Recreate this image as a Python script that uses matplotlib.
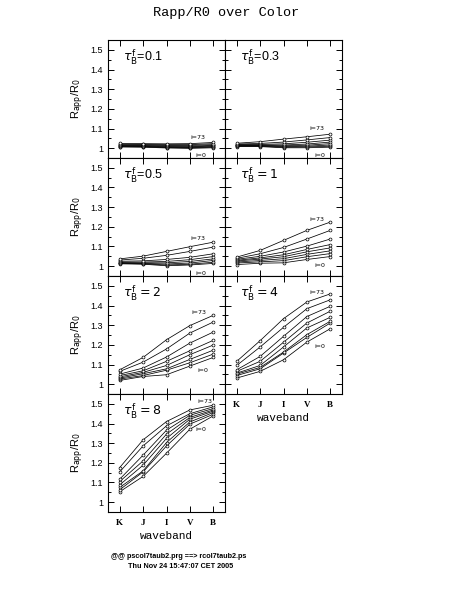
"""
Rapp/R0 frente a la banda de color, para varias profundidades opticas tau_B^f.
Cada curva corresponde a una inclinacion (de i=0 a i=73).
"""

import matplotlib
matplotlib.use('Agg')
import matplotlib.pyplot as plt
from matplotlib.ticker import MultipleLocator

bands = ['K', 'J', 'I', 'V', 'B']
inclinations = [0, 26, 37, 46, 53, 60, 66, 73]
tau_labels = [r'$\tau^{\rm f}_{\rm B}$=0.1', r'$\tau^{\rm f}_{\rm B}$=0.3', r'$\tau^{\rm f}_{\rm B}$=0.5',
              r'$\tau^{\rm f}_{\rm B}=1$', r'$\tau^{\rm f}_{\rm B}=2$', r'$\tau^{\rm f}_{\rm B}=4$',
              r'$\tau^{\rm f}_{\rm B}=8$']
y_ticks = [1.0, 1.1, 1.2, 1.3, 1.4, 1.5]
y_tick_labels = ['1', '1.1', '1.2', '1.3', '1.4', '1.5']

# una fila por inclinacion (i=0 primero), columnas K J I V B
rapp_tau01 = [[1.006, 1.005, 1.001, 0.999, 1.002],
              [1.008, 1.007, 1.003, 1.002, 1.005],
              [1.010, 1.009, 1.005, 1.004, 1.008],
              [1.012, 1.011, 1.008, 1.007, 1.011],
              [1.014, 1.013, 1.011, 1.010, 1.014],
              [1.017, 1.016, 1.014, 1.014, 1.018],
              [1.020, 1.019, 1.018, 1.018, 1.023],
              [1.024, 1.023, 1.022, 1.023, 1.029]]
rapp_tau03 = [[1.008, 1.008, 1.002, 1.002, 1.005],
              [1.010, 1.010, 1.005, 1.006, 1.010],
              [1.012, 1.012, 1.008, 1.010, 1.016],
              [1.014, 1.014, 1.012, 1.015, 1.023],
              [1.016, 1.016, 1.016, 1.021, 1.031],
              [1.018, 1.019, 1.022, 1.030, 1.041],
              [1.021, 1.024, 1.031, 1.042, 1.054],
              [1.025, 1.033, 1.046, 1.058, 1.071]]
rapp_tau05 = [[1.012, 1.010, 1.002, 1.006, 1.014],
              [1.014, 1.012, 1.006, 1.010, 1.020],
              [1.016, 1.014, 1.011, 1.016, 1.029],
              [1.018, 1.017, 1.017, 1.024, 1.037],
              [1.021, 1.021, 1.024, 1.033, 1.049],
              [1.025, 1.027, 1.034, 1.045, 1.063],
              [1.031, 1.040, 1.055, 1.075, 1.097],
              [1.037, 1.051, 1.075, 1.099, 1.122]]
rapp_tau1 = [[1.008, 1.015, 1.017, 1.034, 1.049],
             [1.016, 1.022, 1.028, 1.048, 1.064],
             [1.021, 1.029, 1.038, 1.060, 1.078],
             [1.026, 1.036, 1.048, 1.073, 1.093],
             [1.030, 1.042, 1.058, 1.085, 1.110],
             [1.035, 1.050, 1.072, 1.102, 1.138],
             [1.040, 1.063, 1.095, 1.138, 1.182],
             [1.046, 1.080, 1.131, 1.182, 1.224]]
rapp_tau2 = [[1.019, 1.039, 1.048, 1.092, 1.136],
             [1.026, 1.044, 1.071, 1.109, 1.153],
             [1.031, 1.053, 1.078, 1.126, 1.173],
             [1.037, 1.060, 1.095, 1.150, 1.199],
             [1.044, 1.068, 1.116, 1.170, 1.223],
             [1.051, 1.082, 1.138, 1.209, 1.265],
             [1.065, 1.112, 1.179, 1.260, 1.316],
             [1.073, 1.136, 1.226, 1.298, 1.350]]
rapp_tau4 = [[1.031, 1.065, 1.124, 1.214, 1.282],
             [1.044, 1.078, 1.158, 1.238, 1.311],
             [1.051, 1.085, 1.163, 1.252, 1.320],
             [1.056, 1.095, 1.189, 1.286, 1.340],
             [1.065, 1.116, 1.213, 1.311, 1.371],
             [1.073, 1.141, 1.243, 1.344, 1.396],
             [1.095, 1.189, 1.289, 1.384, 1.429],
             [1.116, 1.221, 1.333, 1.418, 1.459]]
rapp_tau8 = [[1.053, 1.131, 1.249, 1.371, 1.439],
             [1.063, 1.154, 1.286, 1.397, 1.447],
             [1.075, 1.159, 1.303, 1.408, 1.456],
             [1.088, 1.188, 1.324, 1.422, 1.463],
             [1.105, 1.210, 1.346, 1.431, 1.469],
             [1.117, 1.239, 1.366, 1.442, 1.476],
             [1.154, 1.286, 1.388, 1.450, 1.485],
             [1.176, 1.317, 1.410, 1.469, 1.493]]

all_data = [rapp_tau01, rapp_tau03, rapp_tau05, rapp_tau1, rapp_tau2, rapp_tau4, rapp_tau8]

# posicion (px) de cada panel en la figura y posicion (datos) de las etiquetas i=73 / i=0
W, H = 463, 599
panel_px = [(108, 40), (225, 40), (108, 158), (225, 158), (108, 276), (225, 276), (108, 394)]
top_label_pos = [(4.0, 1.052), (4.1, 1.098), (4.0, 1.143), (4.1, 1.235), (4.05, 1.362), (4.1, 1.464), (4.3, 1.514)]
low_label_pos = [(4.25, 0.965), (4.3, 0.965), (4.25, 0.965), (4.3, 1.001), (4.3, 1.072), (4.3, 1.194), (4.25, 1.367)]


def make_panel(fig, k):
	"""
	Dibuja un panel para la profundidad optica k.
	"""

	x0, y0 = panel_px[k]
	ax = fig.add_axes([x0 / W, 1 - (y0 + 118) / H, 117 / W, 118 / H])
	xpos = list(range(1, len(bands) + 1))
	for curve in all_data[k]:
		ax.plot(xpos, curve, '-', color='black', lw=0.55, marker='o', ms=2.1,
				mfc='white', mec='black', mew=0.5)

	ax.set_xlim(0.5, 5.5)
	ax.set_ylim(0.95, 1.55)
	ax.set_xticks(xpos)
	ax.set_yticks(y_ticks)
	ax.yaxis.set_minor_locator(MultipleLocator(0.05))
	ax.tick_params(which='both', direction='in', top=True, right=True, width=0.7)
	ax.tick_params(which='major', length=4.5)
	ax.tick_params(which='minor', length=2.5)
	for s in ax.spines.values():
		s.set_linewidth(0.8)

	left_col = (x0 == 108)
	bottom_panel = (k >= 5)
	if left_col:
		ax.set_yticklabels(y_tick_labels, fontsize=6.5, family='Liberation Sans')
		ax.set_ylabel(r'R$_{\rm app}$/R$_0$', fontsize=8, family='Liberation Sans', labelpad=3)
	else:
		ax.set_yticklabels([])
	if bottom_panel:
		ax.set_xticklabels(bands, fontsize=6.5, family='Liberation Serif', fontweight='bold')
		ax.tick_params(axis='x', pad=5)
		ax.set_xlabel('waveband', fontsize=8, family='Liberation Mono', labelpad=3)
	else:
		ax.set_xticklabels([])

	ax.text(0.13, 0.855, tau_labels[k], transform=ax.transAxes, fontsize=9,
			family='Liberation Sans', va='center', ha='left')
	tx, ty = top_label_pos[k]
	ax.text(tx, ty, 'i=%d' % inclinations[-1], fontsize=4.5, va='center', ha='left')
	lx, ly = low_label_pos[k]
	ax.text(lx, ly, 'i=%d' % inclinations[0], fontsize=4.5, va='center', ha='left')
	return ax


def main():
	fig = plt.figure(figsize=(W / 100, H / 100), dpi=100)
	fig.text(226 / W, 1 - 13 / H, 'Rapp/R0 over Color', ha='center', va='center',
			 fontsize=9.7, family='Liberation Mono')
	for k in range(len(all_data)):
		make_panel(fig, k)

	fig.text(111 / W, 1 - 556 / H, '@@ pscol7taub2.prg ==> rcol7taub2.ps', ha='left', va='center',
			 fontsize=5.2, fontweight='bold', family='Liberation Sans')
	fig.text(128 / W, 1 - 567 / H, 'Thu Nov 24 15:47:07 CET 2005', ha='left', va='center',
			 fontsize=5.2, fontweight='bold', family='Liberation Sans')
	fig.savefig('out.png', dpi=100)


if __name__ == '__main__':
	main()
